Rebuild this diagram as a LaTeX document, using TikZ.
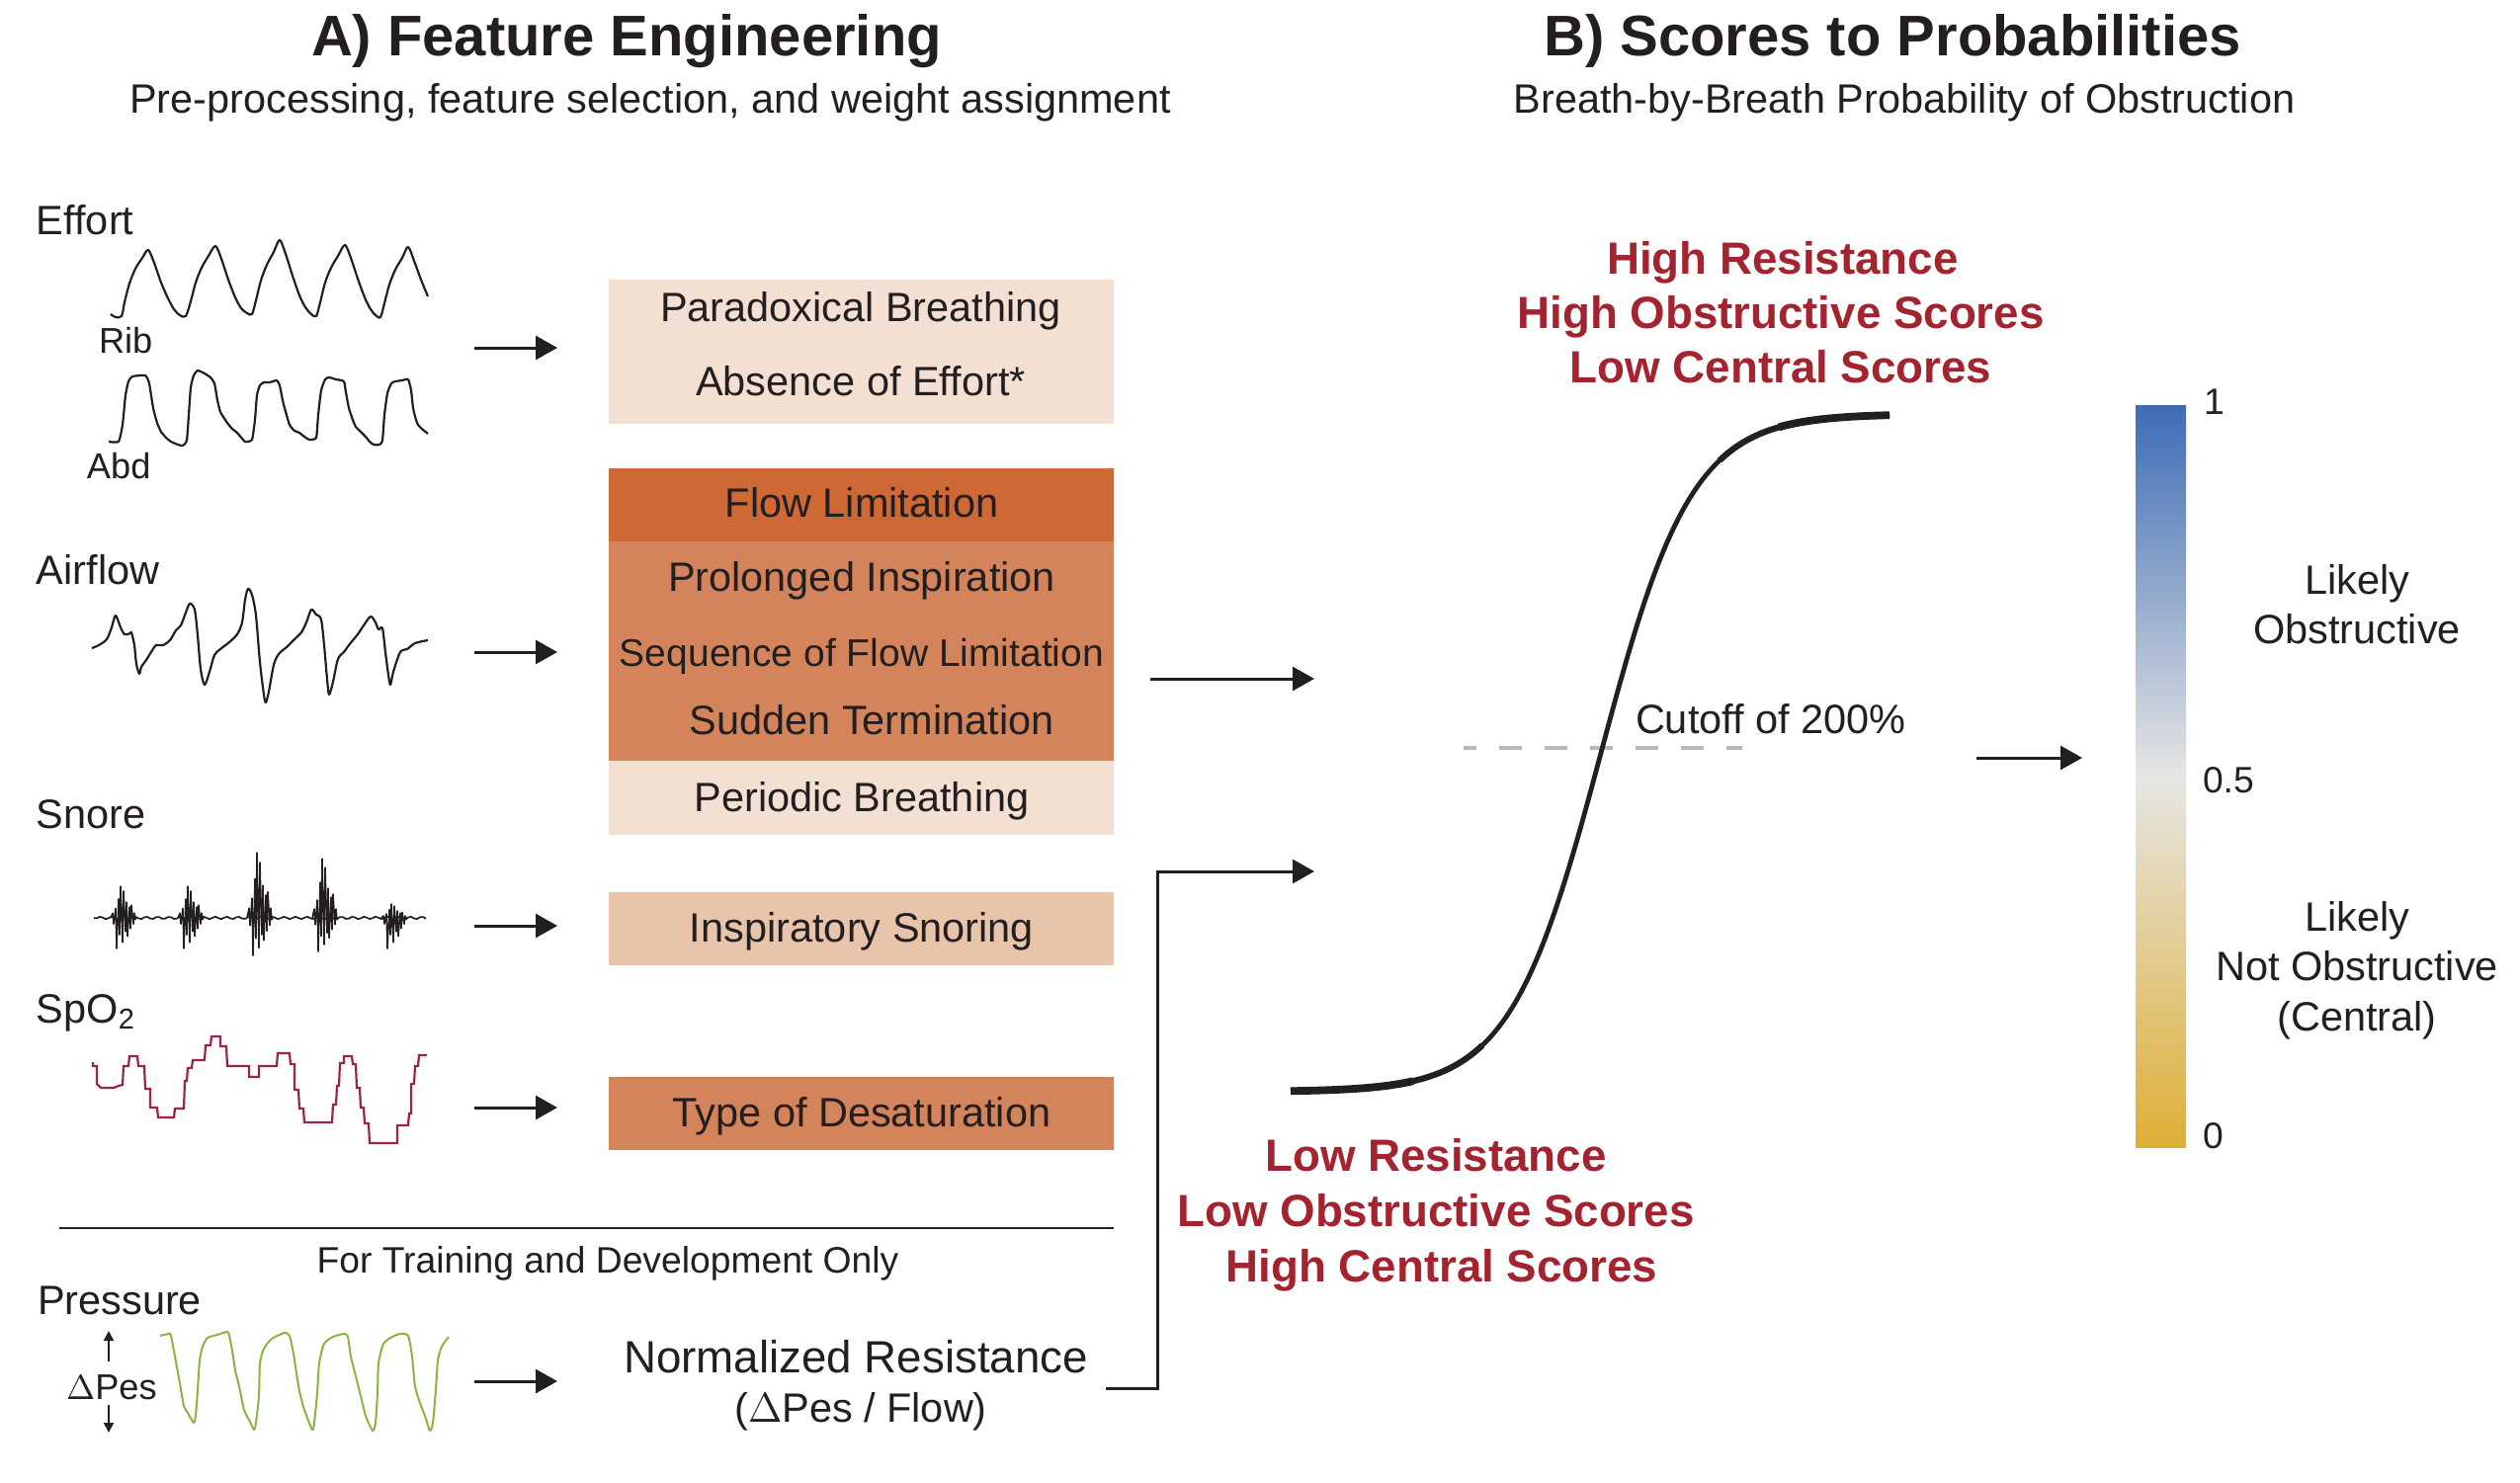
\documentclass[tikz,border=0pt]{standalone}
\usepackage{fontspec}
\setmainfont{Liberation Sans}
\usetikzlibrary{arrows.meta}
\definecolor{txt}{HTML}{231F20}
\definecolor{boxlight}{HTML}{F3E0D3}
\definecolor{boxdark}{HTML}{CE6834}
\definecolor{boxmid}{HTML}{D4845A}
\definecolor{boxsnore}{HTML}{E8C4AB}
\definecolor{redtxt}{HTML}{A3232F}
\definecolor{spocol}{HTML}{9A2540}
\definecolor{prescol}{HTML}{8CB43E}
\definecolor{dashgray}{HTML}{B8B8B8}
\definecolor{cbtop}{HTML}{3D6CB6}
\definecolor{cbmid}{HTML}{E6E6E4}
\definecolor{cbbot}{HTML}{DFAF36}
\newcommand\fsz[1]{\fontsize{#1}{#1}\selectfont}
\newcommand\snoreburst[3]{%
  \draw[wave, line width=0.15mm] (#1,929) \foreach \dx/\u/\d in {2/0.15/0,3/0/0.2,5/0.3/0,6/0/1.0,8/0.6/0,9/0/0.55,10/1.0/0,12/0/0.8,13/0.85/0,15/0/0.45,16/0.5/0,17/0/0.6,19/0.35/0,20/0/0.35,21/0.4/0,23/0/0.2,24/0.15/0,25/0/0.05,26/0/0} { -- ({#1+\dx},{929-#2*\u+#3*\d}) };}
\newcommand\sigm{1105-686/(1+exp(-(\x-1620)/46))}
\begin{document}
\begin{tikzpicture}[x=0.1mm, y=-0.1mm,
  every node/.style={inner sep=0pt, outer sep=0pt, text=txt},
  ttl/.style={anchor=base, font=\bfseries\fsz{16.5}},
  sub/.style={anchor=base, font=\fsz{11.8}},
  sig/.style={anchor=base west, font=\fsz{11.8}},
  sigs/.style={anchor=base west, font=\fsz{10.3}},
  feat/.style={anchor=base, font=\fsz{11.8}},
  boxr/.style={anchor=north west, minimum width=51.1mm, draw=none},
  redt/.style={anchor=base, font=\bfseries\fsz{13}, text=redtxt},
  side/.style={anchor=base, font=\fsz{11.8}},
  tick/.style={anchor=west, font=\fsz{10.6}},
  wave/.style={line width=0.22mm, draw=txt, line join=round},
  arr/.style={-{Triangle[length=2.2mm,width=2.4mm]}, line width=0.3mm, draw=txt},
  smallarr/.style={-{Triangle[length=1mm,width=1mm]}, line width=0.2mm, draw=txt},
]
\useasboundingbox (0,0) rectangle (2550,1500);
\fill[white] (0,0) rectangle (2550,1500);

% titles
\node[ttl] (titA) at (634,57) {A) Feature Engineering};
\node[sub] (subA) at (658,115) {Pre-processing, feature selection, and weight assignment};
\node[ttl] (titB) at (1915,57) {B) Scores to Probabilities};
\node[sub] (subB) at (1927,115) {Breath-by-Breath Probability of Obstruction};

% signal labels
\node[sig] (lEffort) at (37,238) {Effort};
\node[sigs] (lRib) at (100,357) {Rib};
\node[sigs] (lAbd) at (88,484) {Abd};
\node[sig] (lAir) at (37,591) {Airflow};
\node[sig] (lSnore) at (37,838) {Snore};
\node[sig] (lSpO) at (37,1035) {SpO\textsubscript{2}};
\node[sig] (lPres) at (38,1330) {Pressure};
\node[sigs] (lDP) at (67,1416) {$\Delta$Pes};

% waveforms
\draw[wave] plot[smooth, tension=0.5] coordinates {(112,318) (117,321) (123,320)
 (126,306) (131,287) (137,272) (144,261) (150,253) (156,266) (163,286) (170,302) (176,313) (182,319) (188,320)
 (193,305) (198,286) (204,271) (211,259) (218,249) (224,262) (231,283) (238,301) (244,312) (250,317) (255,318)
 (259,304) (264,284) (270,268) (277,255) (283,243) (289,257) (296,279) (303,299) (309,311) (315,318) (320,320)
 (324,306) (329,286) (335,271) (342,259) (349,248) (355,261) (362,282) (369,301) (375,313) (380,319) (385,321)
 (389,307) (394,288) (400,273) (407,261) (413,250) (419,264) (426,283) (433,300)};
\draw[wave] plot[smooth, tension=0.3] coordinates {(110,447) (120,447) (124,430) (127,400) (130,386) (134,381) (147,380) (151,388) (155,413) (159,428) (163,437) (168,443) (173,447) (180,450) (185,451) (189,446) (191,420) (193,392) (196,380) (200,375) (207,378) (213,382) (217,388) (220,405) (223,417) (230,428) (235,434) (240,438) (248,447) (255,445) (258,425) (260,400) (263,390) (267,387) (273,387) (280,385) (283,390) (286,405) (288,413) (293,430) (298,436) (303,438) (308,442) (313,445) (320,443) (322,420) (325,395) (329,384) (333,382) (340,384) (348,386) (350,397) (353,413) (357,425) (360,432) (365,437) (370,442) (374,447) (378,450) (384,450) (387,446) (389,420) (392,398) (396,388) (400,386) (407,385) (413,384) (416,395) (418,413) (421,425) (423,430) (428,435) (433,439)};
\draw[wave] plot[smooth, tension=0.5] coordinates {(93,656) (100,653) (108,647) (113,635) (117,623) (122,635) (126,642) (132,641) (133,640) (136,653) (138,672) (141,682) (143,675) (148,668) (153,660) (158,653) (165,653) (172,648) (178,638) (183,633) (188,620) (192,611) (197,617) (200,643) (203,677) (207,693) (212,680) (217,663) (223,657) (232,650) (240,642) (245,630) (248,607) (251,596) (255,602) (259,623) (263,670) (267,703) (269,711) (272,700) (277,673) (282,662) (290,655) (298,647) (305,640) (310,630) (315,617) (320,622) (325,627) (328,653) (331,687) (333,703) (337,690) (342,667) (348,660) (353,653) (362,642) (368,633) (375,624) (380,630) (383,637) (387,636) (390,660) (393,683) (395,693) (398,680) (405,660) (412,657) (420,651) (433,648)};
% snore
\draw[wave, line width=0.17mm] (95,929) \foreach \x in {98,101,...,431} { -- (\x,{929+1.2*sin(\x*31)}) };
\snoreburst{112}{32}{31}
\snoreburst{180}{32}{31}
\snoreburst{250}{66}{38}
\snoreburst{316}{60}{34}
\snoreburst{386}{14}{31}
% SpO2
\draw[line width=0.22mm, draw=spocol] (94,1075) -- (94,1079) -- (98,1079) -- (98,1097) -- (102,1101) -- (115,1101) -- (120,1099) -- (124,1098) -- (125,1079) -- (130,1079) -- (131,1069) -- (139,1069) -- (140,1079) -- (146,1079) -- (147,1102) -- (152,1102) -- (152,1121) -- (159,1121) -- (160,1131) -- (176,1131) -- (177,1122) -- (186,1122) -- (187,1094) -- (189,1094) -- (190,1081) -- (194,1081) -- (195,1073) -- (207,1073) -- (208,1058) -- (213,1058) -- (214,1049) -- (223,1049) -- (223,1059) -- (229,1059) -- (230,1079) -- (252,1079) -- (252,1090) -- (262,1090) -- (262,1079) -- (280,1079) -- (281,1066) -- (293,1066) -- (294,1077) -- (298,1077) -- (298,1103) -- (302,1103) -- (303,1122) -- (307,1122) -- (308,1136) -- (336,1136) -- (337,1118) -- (340,1118) -- (341,1099) -- (343,1099) -- (344,1076) -- (348,1076) -- (348,1069) -- (356,1069) -- (357,1077) -- (360,1077) -- (361,1101) -- (364,1101) -- (365,1121) -- (368,1121) -- (369,1137) -- (373,1137) -- (374,1157) -- (402,1157) -- (402,1139) -- (413,1139) -- (414,1127) -- (416,1127) -- (416,1097) -- (419,1097) -- (420,1079) -- (423,1079) -- (424,1068) -- (432,1068);
% pressure
\draw[line width=0.2mm, draw=prescol, line join=round] plot[smooth, tension=0.4] coordinates {(162,1352) (171,1350) (173,1352) (177,1373) (182,1400) (186,1423) (190,1430) (196,1440) (198,1433) (200,1407) (202,1377) (205,1363) (210,1354) (220,1351) (230,1348) (232,1352) (235,1367) (238,1387) (242,1403) (247,1427) (252,1437) (257,1447) (259,1440) (262,1413) (263,1380) (267,1365) (275,1355) (288,1349) (293,1352) (297,1370) (300,1390) (303,1408) (308,1427) (316,1447) (318,1440) (321,1410) (323,1380) (328,1360) (337,1353) (348,1350) (352,1353) (355,1373) (360,1393) (365,1413) (370,1433) (377,1448) (380,1440) (382,1410) (383,1380) (388,1360) (397,1353) (405,1350) (413,1352) (417,1373) (420,1403) (425,1420) (430,1433) (435,1448) (438,1440) (441,1407) (443,1377) (447,1363) (454,1353)};
% Delta Pes arrows
\coordinate (dpU0) at (110,1378); \coordinate (dpU1) at (110,1347);
\coordinate (dpD0) at (110,1422); \coordinate (dpD1) at (110,1450);
\draw[smallarr] (dpU0) -- (dpU1);
\draw[smallarr] (dpD0) -- (dpD1);

% feature boxes
\node[boxr, fill=boxlight, minimum height=14.6mm] (bEff) at (616,283) {};
\node[boxr, fill=boxdark, minimum height=7.4mm] (bFlow) at (616,474) {};
\node[boxr, fill=boxmid, minimum height=22.2mm] (bMid) at (616,548) {};
\node[boxr, fill=boxlight, minimum height=7.5mm] (bPer) at (616,770) {};
\node[boxr, fill=boxsnore, minimum height=7.4mm] (bSn) at (616,903) {};
\node[boxr, fill=boxmid, minimum height=7.4mm] (bDes) at (616,1090) {};

\node[feat] (tPar) at (871,325) {Paradoxical Breathing};
\node[feat] (tAbs) at (871,400) {Absence of Effort*};
\node[feat] (tFL) at (872,523) {Flow Limitation};
\node[feat] (tPro) at (872,598) {Prolonged Inspiration};
\node[feat, font=\fsz{11.1}] (tSeq) at (872,674) {Sequence of Flow Limitation};
\node[feat] (tSud) at (882,743) {Sudden Termination};
\node[feat] (tPer) at (872,821) {Periodic Breathing};
\node[feat] (tIS) at (872,953) {Inspiratory Snoring};
\node[feat] (tTD) at (872,1140) {Type of Desaturation};

% separator
\coordinate (sepL) at (60,1243); \coordinate (sepR) at (1127,1243);
\draw[line width=0.2mm, draw=txt] (sepL) -- (sepR);
\node[anchor=base, font=\fsz{10.6}] (tTrain) at (615,1288) {For Training and Development Only};
\node[anchor=base, font=\fsz{13}] (tNR) at (866,1389) {Normalized Resistance};
\node[anchor=base, font=\fsz{11.8}] (tNR2) at (871,1439) {($\Delta$Pes / Flow)};

% left arrows
\coordinate (a1s) at (480,352); \coordinate (a1t) at (564,352);
\coordinate (a2s) at (480,660); \coordinate (a2t) at (564,660);
\coordinate (a3s) at (480,937); \coordinate (a3t) at (564,937);
\coordinate (a4s) at (480,1121); \coordinate (a4t) at (564,1121);
\coordinate (a5s) at (480,1398); \coordinate (a5t) at (564,1398);
\draw[arr] (a1s) -- (a1t);
\draw[arr] (a2s) -- (a2t);
\draw[arr] (a3s) -- (a3t);
\draw[arr] (a4s) -- (a4t);
\draw[arr] (a5s) -- (a5t);

% middle arrows
\coordinate (m1s) at (1164,687); \coordinate (m1t) at (1330,687);
\draw[arr] (m1s) -- (m1t);
\coordinate (rs) at (1119,1405); \coordinate (rk) at (1171,882); \coordinate (rt) at (1330,882);
\draw[arr] (rs) -| (rk) -- (rt);

% cutoff line and sigmoid
\coordinate (dashL) at (1481,757); \coordinate (dashR) at (1763,757);
\draw[dashgray, line width=0.32mm, dash pattern=on 2.3mm off 2.3mm, dash phase=1mm] (dashL) -- (dashR);
\node[anchor=base west, font=\fsz{11.8}] (tCut) at (1655,742) {Cutoff of 200\%};
\draw[txt, line width=0.48mm] plot[domain=1306:1912, samples=160] (\x, {\sigm});
\draw[txt, line width=0.62mm] plot[domain=1306:1500, samples=50] (\x, {\sigm});
\draw[txt, line width=0.62mm] plot[domain=1740:1912, samples=50] (\x, {\sigm});
\draw[txt, line width=0.78mm] plot[domain=1306:1430, samples=30] (\x, {\sigm});
\draw[txt, line width=0.78mm] plot[domain=1800:1912, samples=30] (\x, {\sigm});

% red annotations
\node[redt] (hr1) at (1804,277) {High Resistance};
\node[redt] (hr2) at (1802,332) {High Obstructive Scores};
\node[redt] (hr3) at (1802,387) {Low Central Scores};
\node[redt] (lr1) at (1453,1185) {Low Resistance};
\node[redt] (lr2) at (1453,1241) {Low Obstructive Scores};
\node[redt] (lr3) at (1459,1297) {High Central Scores};

% colorbar
\coordinate (cbs) at (2000,767); \coordinate (cbt) at (2107,767);
\draw[arr] (cbs) -- (cbt);
\node[anchor=north west, minimum width=5.1mm, minimum height=75.1mm, top color=cbtop, bottom color=cbbot, middle color=cbmid, draw=none] (cbar) at (2161,410) {};
\node[tick] (c1) at (2230,407) {1};
\node[tick] (c05) at (2229,790) {0.5};
\node[tick] (c0) at (2229,1150) {0};
\node[side] (s1) at (2385,601) {Likely};
\node[side] (s2) at (2385,651) {Obstructive};
\node[side] (s3) at (2385,942) {Likely};
\node[side] (s4) at (2385,992) {Not Obstructive};
\node[side] (s5) at (2385,1043) {(Central)};
\end{tikzpicture}
\end{document}
